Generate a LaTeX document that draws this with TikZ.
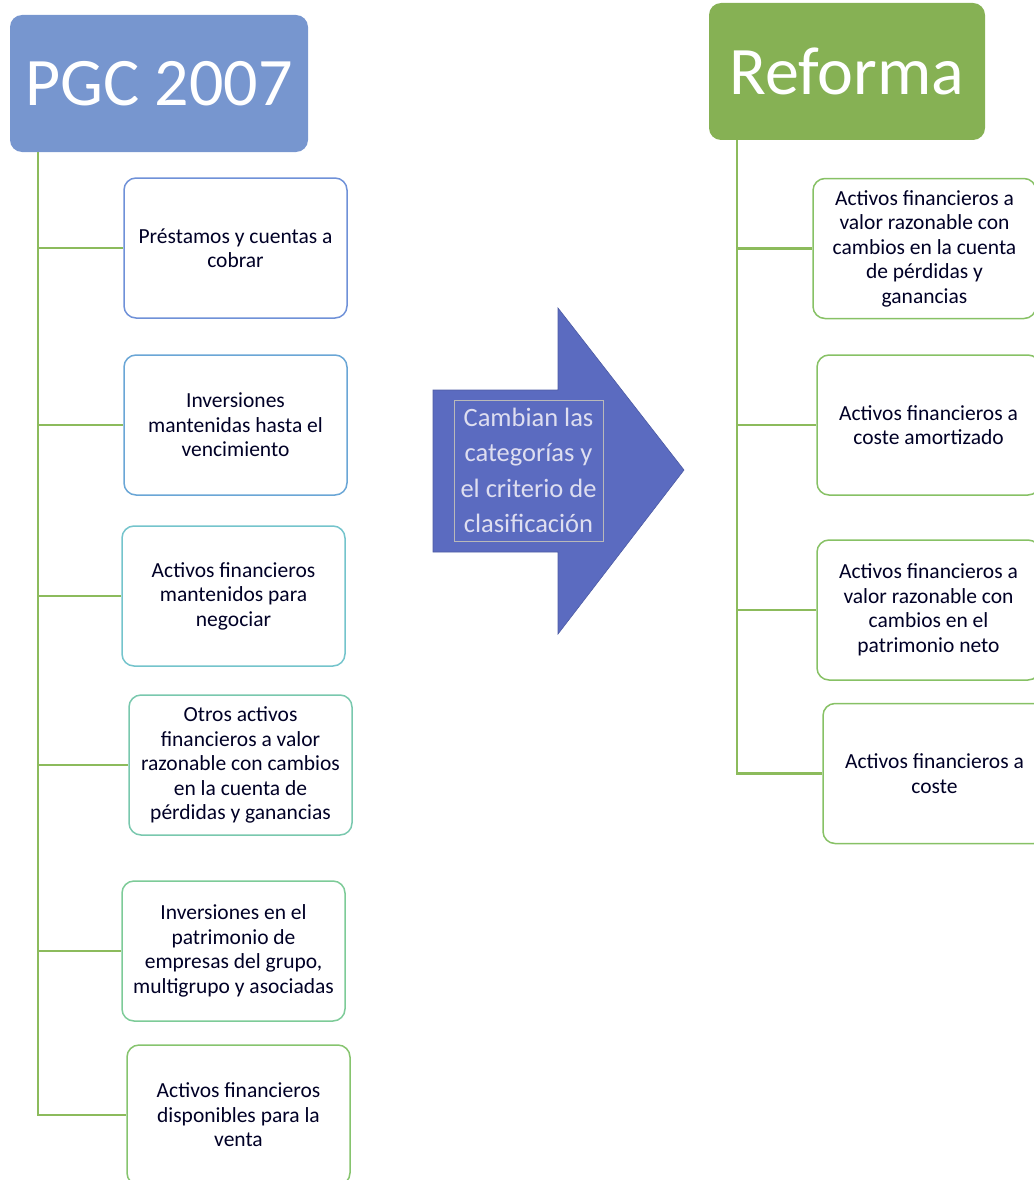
\documentclass[tikz,border=0pt]{standalone}
\usepackage{fontspec}
\setmainfont{Carlito}
\usetikzlibrary{positioning}

\definecolor{pgcblue}{HTML}{7796CF}
\definecolor{refgreen}{HTML}{86B154}
\definecolor{linegreen}{HTML}{8CBB5C}
\definecolor{arrowblue}{HTML}{5B6BC0}
\definecolor{cA}{HTML}{6F91D8}
\definecolor{cB}{HTML}{6AA6D6}
\definecolor{cC}{HTML}{74C4CC}
\definecolor{cD}{HTML}{79C8AE}
\definecolor{cE}{HTML}{7DCB98}
\definecolor{cF}{HTML}{86C46E}
\definecolor{cR}{HTML}{87C165}

\tikzset{
  head/.style={rectangle, rounded corners=12pt, fill=#1, text=white,
    minimum width=298pt, minimum height=137pt,
    font=\fontsize{68}{78}\selectfont},
  item/.style={rectangle, rounded corners=12pt, draw=#1, line width=1.5pt, fill=white,
    minimum width=223pt, minimum height=140pt, align=center,
    text=black!85!blue, font=\fontsize{21.5}{24.5}\selectfont},
  branch/.style={draw=linegreen, line width=2.5pt}
}

\begin{document}
\begin{tikzpicture}[x=1pt, y=-1pt]
\useasboundingbox (0,0) rectangle (1033,1180);

% PGC 2007
\node[head=pgcblue] (pgc) at (159,83.5) {PGC 2007};
\coordinate (lt) at (38,0);
\node[item=cA] (p1) at (235.5,248) {Préstamos y cuentas a\\cobrar};
\node[item=cB] (p2) at (235.5,425) {Inversiones\\mantenidas hasta el\\vencimiento};
\node[item=cC] (p3) at (233.5,596) {Activos financieros\\mantenidos para\\negociar};
\node[item=cD] (p4) at (240.5,765) {Otros activos\\financieros a valor\\razonable con cambios\\en la cuenta de\\pérdidas y ganancias};
\node[item=cE] (p5) at (233.5,951) {Inversiones en el\\patrimonio de\\empresas del grupo,\\multigrupo y asociadas};
\node[item=cF] (p6) at (238.5,1115) {Activos financieros\\disponibles para la\\venta};
\draw[branch] (pgc.south -| lt) |- (p6.west);
\foreach \b in {p1,p2,p3,p4,p5}
  \draw[branch] (lt |- \b.west) -- (\b.west);

% Arrow
\fill[arrowblue, draw=arrowblue!85!black, line width=0.6pt]
  (433,390) -- (558,390) -- (558,308) -- (684,470) -- (558,634) -- (558,552) -- (433,552) -- cycle;
\node[draw=gray!55, line width=0.8pt, minimum width=149pt, minimum height=141pt,
  align=center, text=blue!8!white!88!gray,
  font=\fontsize{26.5}{35.5}\selectfont] (txt) at (528.5,470.5)
  {Cambian las\\categorías y\\el criterio de\\clasificación};

% Reforma
\node[head=refgreen, minimum width=276pt] (ref) at (847,71.5) {Reforma};
\coordinate (rt) at (737,0);
\node[item=cR] (r1) at (924.5,248.5) {Activos financieros a\\valor razonable con\\cambios en la cuenta\\de pérdidas y\\ganancias};
\node[item=cR] (r2) at (928.5,425) {Activos financieros a\\coste amortizado};
\node[item=cR] (r3) at (928.5,610) {Activos financieros a\\valor razonable con\\cambios en el\\patrimonio neto};
\node[item=cR] (r4) at (934.5,773.5) {Activos financieros a\\coste};
\draw[branch] (ref.south -| rt) |- (r4.west);
\foreach \b in {r1,r2,r3}
  \draw[branch] (rt |- \b.west) -- (\b.west);
\end{tikzpicture}
\end{document}
